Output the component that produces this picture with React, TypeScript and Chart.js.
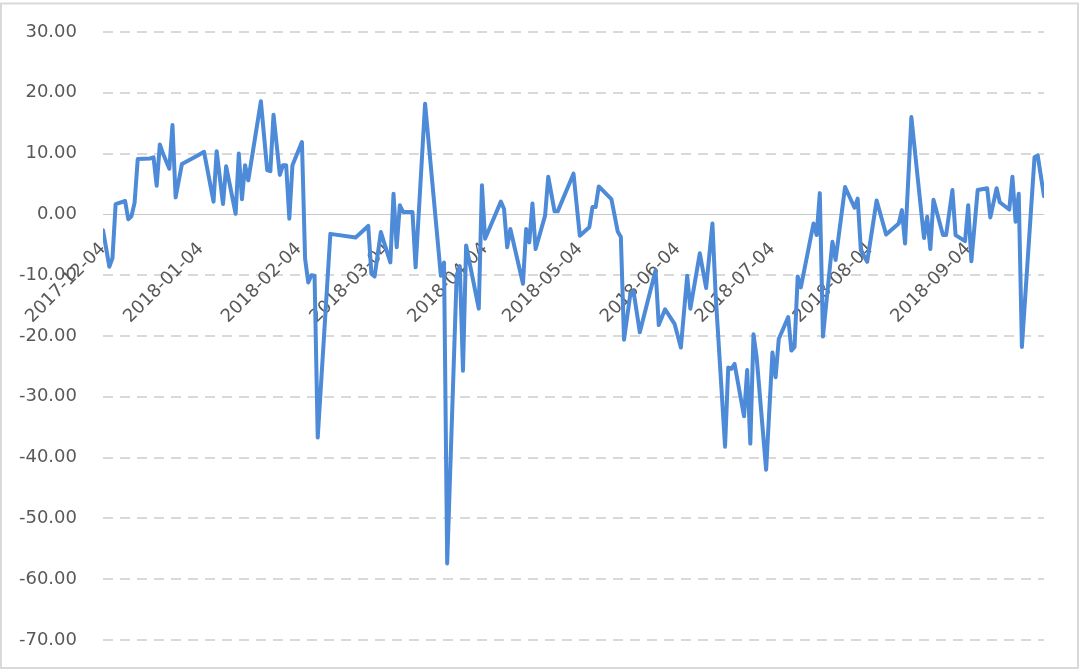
import React, { useEffect, useRef } from "react";
import { Chart, registerables } from "chart.js";

Chart.register(...registerables);

// Day offsets counted from the first date of the series (2017-12-04)
const BASE_DATE = "2017-12-04";

const dayOffsets = [
  0, 2, 3, 4, 7, 8, 9, 10, 11, 15,
  16, 17, 18, 19, 21, 22, 23, 25, 30, 32,
  35, 36, 38, 39, 42, 43, 44, 45, 46, 50,
  52, 53, 54, 56, 57, 58, 59, 60, 63, 64,
  65, 66, 67, 68, 72, 80, 84, 85, 86, 88,
  89, 91, 92, 93, 94, 95, 98, 99, 102, 107,
  108, 109, 112, 113, 114, 115, 119, 120, 121, 126,
  127, 128, 129, 133, 134, 135, 136, 137, 140, 141,
  143, 144, 149, 151, 154, 155, 156, 157, 161, 163,
  164, 165, 167, 168, 170, 175, 176, 178, 181, 183,
  185, 186, 189, 191, 193, 194, 197, 198, 199, 200,
  203, 204, 205, 206, 207, 210, 212, 213, 214, 217,
  218, 219, 220, 221, 225, 226, 227, 228, 231, 232,
  235, 238, 239, 240, 242, 245, 248, 252, 253, 254,
  256, 260, 261, 262, 263, 266, 267, 269, 270, 273,
  274, 275, 277, 280, 281, 283, 284, 287, 288, 289,
  290, 291, 295, 296, 298,
];

const values = [
  -2.6, -8.6, -7.2, 1.7, 2.2, -0.8, -0.3, 1.9, 9.1, 9.2,
  9.4, 4.7, 11.5, 10.0, 7.5, 14.7, 2.8, 8.3, 9.7, 10.3,
  2.1, 10.4, 1.7, 7.9, 0.1, 10.0, 2.5, 8.1, 5.6, 18.6,
  7.3, 7.1, 16.4, 6.5, 8.1, 8.1, -0.7, 8.1, 11.9, -7.3,
  -11.2, -10.0, -10.1, -36.7, -3.2, -3.8, -1.9, -9.8, -10.2, -2.9,
  -4.6, -7.9, 3.4, -5.4, 1.5, 0.4, 0.4, -8.7, 18.2, -10.1,
  -7.9, -57.4, -10.0, -8.5, -25.7, -5.1, -15.5, 4.8, -4.0, 2.1,
  0.9, -5.4, -2.4, -11.4, -2.4, -4.6, 1.8, -5.7, -0.2, 6.2,
  0.5, 0.5, 6.7, -3.5, -2.1, 1.2, 1.2, 4.6, 2.5, -2.8,
  -3.7, -20.6, -13.1, -12.6, -19.4, -9.2, -18.2, -15.6, -18.0, -21.9,
  -10.1, -15.5, -6.4, -12.1, -1.5, -13.1, -38.2, -25.2, -25.4, -24.6,
  -33.2, -25.6, -37.7, -19.7, -23.5, -42.0, -22.7, -26.8, -20.5, -16.9,
  -22.4, -21.8, -10.2, -12.0, -1.5, -3.4, 3.5, -20.1, -4.5, -7.5,
  4.5, 1.1, 2.6, -5.9, -7.8, 2.3, -3.3, -1.5, 0.7, -4.8,
  16.0, -3.9, -0.4, -5.7, 2.4, -3.4, -3.4, 4.0, -3.4, -4.4,
  1.5, -7.7, 4.0, 4.3, -0.5, 4.3, 2.0, 0.8, 6.2, -1.2,
  3.4, -21.8, 9.4, 9.7, 3.0,
];

const tickLabels = [
  "2017-12-04",
  "2018-01-04",
  "2018-02-04",
  "2018-03-04",
  "2018-04-04",
  "2018-05-04",
  "2018-06-04",
  "2018-07-04",
  "2018-08-04",
  "2018-09-04",
];

const Y_MIN = -70;
const Y_MAX = 30;
const Y_STEP = 10;

const dayOf = (s: string) =>
  Math.round((Date.parse(s) - Date.parse(BASE_DATE)) / 86400000);
const tickDays = tickLabels.map(dayOf);

const FONT = { family: "DejaVu Sans", size: 18 };
const TEXT_COLOR = "#595959";

export default function App() {
  const ref = useRef<HTMLCanvasElement>(null);

  useEffect(() => {
    const canvas = ref.current;
    if (!canvas) return;

    const framePlugin = {
      id: "frame",
      beforeDraw(chart: any) {
        const ctx = chart.ctx;
        ctx.save();
        ctx.fillStyle = "#ffffff";
        ctx.fillRect(0, 0, chart.width, chart.height);
        ctx.restore();
      },
      afterDraw(chart: any) {
        const ctx = chart.ctx;
        ctx.save();
        ctx.strokeStyle = "#d9d9d9";
        ctx.lineWidth = 2;
        ctx.strokeRect(1, 3.5, chart.width - 3, chart.height - 4.5);
        ctx.restore();
      },
    };

    const chart = new Chart(canvas, {
      type: "line",
      data: {
        datasets: [
          {
            data: dayOffsets.map((d, i) => ({ x: d, y: values[i] })),
            borderColor: "#4d8ad7",
            borderWidth: 4,
            pointRadius: 0,
            tension: 0,
            fill: false,
            borderJoinStyle: "round",
            borderCapStyle: "round",
          },
        ],
      },
      options: {
        animation: false,
        responsive: false,
        layout: { padding: { top: 32, bottom: 29, left: 0, right: 36 } },
        plugins: {
          legend: { display: false },
          tooltip: { enabled: false },
        },
        scales: {
          x: {
            type: "linear",
            min: 0,
            max: dayOffsets[dayOffsets.length - 1],
            position: { y: 0 },
            grid: { display: false, drawTicks: true, tickLength: 24 },
            border: { display: false },
            afterBuildTicks: (scale: any) => {
              scale.ticks = tickDays.map((v) => ({ value: v }));
            },
            ticks: {
              autoSkip: false,
              minRotation: 45,
              maxRotation: 45,
              padding: 0,
              color: TEXT_COLOR,
              font: FONT,
              callback: (v: any) => {
                const i = tickDays.indexOf(Number(v));
                return i >= 0 ? tickLabels[i] : "";
              },
            },
          },
          y: {
            min: Y_MIN,
            max: Y_MAX,
            afterFit: (scale: any) => {
              scale.width = 103;
            },
            grid: {
              drawTicks: true,
              tickLength: 26,
              tickColor: "rgba(0,0,0,0)",
              color: (ctx: any) =>
                ctx.tick && ctx.tick.value === 0 ? "#c9c9c9" : "#d9d9d9",
              lineWidth: (ctx: any) =>
                ctx.tick && ctx.tick.value === 0 ? 1 : 2,
            },
            border: {
              display: false,
              dash: (ctx: any) =>
                ctx.tick && ctx.tick.value === 0 ? [] : [10, 7],
            },
            ticks: {
              stepSize: Y_STEP,
              padding: 0,
              color: TEXT_COLOR,
              font: FONT,
              callback: (v: any) => Number(v).toFixed(2),
            },
          },
        },
      },
      plugins: [framePlugin],
    } as any);

    return () => chart.destroy();
  }, []);

  return (
    <div style={{ position: "absolute", left: 0, top: 0, width: 1080, height: 669 }}>
      <canvas ref={ref} width={1080} height={669} style={{ display: "block" }} />
    </div>
  );
}
